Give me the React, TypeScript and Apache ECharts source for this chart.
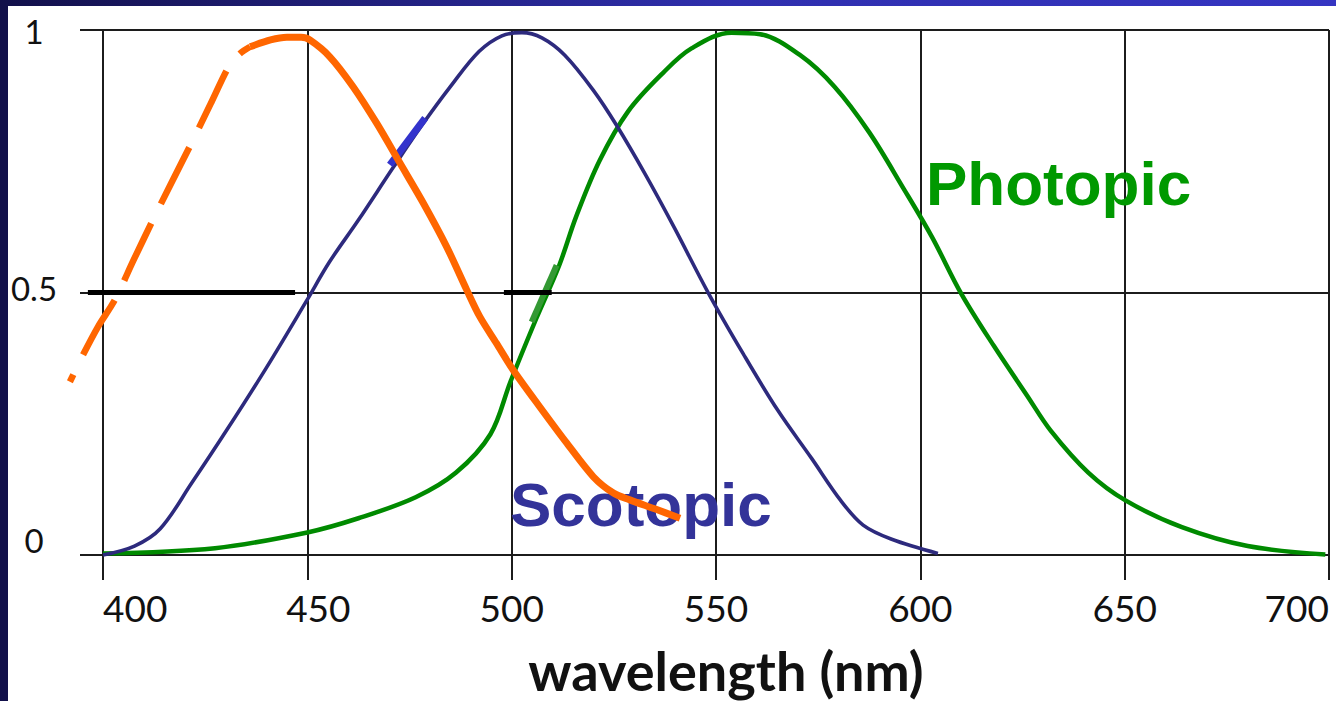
import React, { useEffect, useRef } from "react";
import * as echarts from "echarts";

const xTicks = [400, 450, 500, 550, 600, 650, 700];
const yTicks = [0, 0.5, 1];

const scotopic: [number, number][] = [
  [400, 0], [407.7, 0.017], [414, 0.05], [421.7, 0.137], [430.2, 0.237], [440, 0.357],
  [449.8, 0.484], [455.4, 0.558], [462.5, 0.638], [471, 0.738], [478, 0.818], [485, 0.892],
  [492, 0.959], [497.6, 0.989], [502.5, 0.995], [507.4, 0.985], [513, 0.952], [520, 0.885],
  [525.7, 0.818], [532.7, 0.725], [539.7, 0.625], [548.2, 0.498], [556.6, 0.384], [565, 0.277],
  [573.4, 0.184], [580.5, 0.104], [586, 0.057], [593, 0.03], [604.3, 0.003],
];

const photopic: [number, number][] = [
  [400, 0.003], [427.4, 0.013], [450, 0.043], [462.5, 0.07], [476.5, 0.11], [486.4, 0.157],
  [494.8, 0.23], [499.7, 0.33], [506, 0.45], [511.6, 0.551], [515.8, 0.645], [521.5, 0.751],
  [528.5, 0.845], [537, 0.918], [544, 0.965], [553.8, 0.995], [560.8, 0.992], [570.6, 0.952],
  [579, 0.892], [587.5, 0.805], [595.9, 0.698], [602.9, 0.605], [610, 0.498], [618.1, 0.397],
  [626.1, 0.304], [631.9, 0.237], [641.1, 0.157], [650.2, 0.104], [664, 0.053], [680.1, 0.017],
  [699.1, 0.001],
];

const orangeDashed: [number, number][] = [
  [391.9, 0.33], [395.1, 0.381], [398.8, 0.435], [402.9, 0.486], [407.5, 0.562], [412.2, 0.638],
  [417, 0.713], [421.8, 0.787], [426.5, 0.862], [430.9, 0.932], [433.5, 0.955], [436, 0.968],
];

const orangeSolid: [number, number][] = [
  [436, 0.968], [441, 0.981], [445, 0.986], [448.5, 0.986], [450.6, 0.981], [455.5, 0.949],
  [461.2, 0.892], [467, 0.822], [472.7, 0.746], [478.4, 0.67], [484.1, 0.587], [489, 0.505],
  [492.2, 0.454], [496.3, 0.403], [500.4, 0.352], [506.9, 0.282], [513.5, 0.213], [520, 0.149],
  [524.9, 0.118], [528.9, 0.105], [535, 0.088], [541.2, 0.07],
];

const halfMarkA: [number, number][] = [[396.3, 0.5], [447, 0.5]];
const halfMarkB: [number, number][] = [[498.1, 0.5], [509.8, 0.5]];
const blueMark: [number, number][] = [[470.2, 0.743], [478.8, 0.832]];
const greenMark: [number, number][] = [[504.9, 0.444], [511, 0.552]];

const xTitle = "wavelength (nm)";
const photopicLabel = "Photopic";
const scotopicLabel = "Scotopic";

// Plot geometry (pixels) and an auxiliary hidden axis extended to the left so marks
// before 400 nm are drawn through the same linear scale.
const PLOT_LEFT = 103;
const PLOT_RIGHT = 1329;
const AUX_MIN = 390;
const pxPerNm = (PLOT_RIGHT - PLOT_LEFT) / (700 - 400);
const AUX_LEFT = PLOT_LEFT - (400 - AUX_MIN) * pxPerNm;

export default function App() {
  const ref = useRef<HTMLDivElement>(null);
  useEffect(() => {
    if (!ref.current) return;
    const chart = echarts.init(ref.current, undefined, { renderer: "svg" });
    const gridLine = { color: "#1c1c1c", width: 2 };
    const seg = (data: [number, number][], color: string, width: number, z = 3, aux = false) => ({
      type: "line",
      data,
      showSymbol: false,
      symbol: "none",
      clip: false,
      silent: true,
      z,
      xAxisIndex: aux ? 1 : 0,
      yAxisIndex: aux ? 1 : 0,
      lineStyle: { color, width, cap: "butt" },
    });
    chart.setOption({
      animation: false,
      backgroundColor: "#ffffff",
      grid: [
        { left: PLOT_LEFT, right: 1336 - PLOT_RIGHT, top: 30, bottom: 146, containLabel: false, outerBoundsMode: "none" },
        { left: AUX_LEFT, right: 1336 - PLOT_RIGHT, top: 30, bottom: 146, containLabel: false, outerBoundsMode: "none" },
      ],
      xAxis: [
        {
          type: "value",
          gridIndex: 0,
          min: 400,
          max: 700,
          interval: 50,
          axisLine: { show: true, onZero: false, lineStyle: gridLine },
          axisTick: { show: true, length: 25, lineStyle: gridLine },
          splitLine: { show: true, lineStyle: gridLine },
          axisLabel: {
            margin: 34,
            fontFamily: "Lato",
            fontSize: 37,
            color: "#111",
            alignMinLabel: "left",
            alignMaxLabel: "right",
            formatter: (v: number) => (v === 450 ? "{s|" + v + "}" : String(v)),
            rich: { s: { fontFamily: "Lato", fontSize: 37, color: "#111", padding: [0, 0, 0, 22] } },
          },
          name: xTitle,
          nameLocation: "middle",
          nameGap: 88,
          nameTextStyle: {
            fontFamily: "Lato",
            fontWeight: "bold",
            fontSize: 54,
            color: "#111",
            padding: [0, 0, 0, 20],
          },
        },
        {
          type: "value",
          gridIndex: 1,
          min: AUX_MIN,
          max: 700,
          show: false,
        },
      ],
      yAxis: [
        {
          type: "value",
          gridIndex: 0,
          min: 0,
          max: 1,
          interval: 0.5,
          axisLine: { show: true, lineStyle: gridLine },
          axisTick: { show: true, length: 23, lineStyle: gridLine },
          splitLine: { show: true, lineStyle: gridLine },
          axisLabel: {
            margin: 69,
            align: "center",
            fontFamily: "Lato",
            fontSize: 33,
            color: "#111",
            formatter: (v: number) => {
              if (v === 0) return "{z|0}";
              if (v === 0.5) return "{h|0.5}";
              return "{o|" + String(v) + "}";
            },
            rich: {
              z: { fontFamily: "Lato", fontSize: 33, color: "#111", padding: [0, 0, 30, 0] },
              h: { fontFamily: "Lato", fontSize: 33, color: "#111", padding: [0, 0, 10, 0] },
              o: { fontFamily: "Lato", fontSize: 33, color: "#111", padding: [2, 0, 0, 0] },
            },
          },
        },
        { type: "value", gridIndex: 1, min: 0, max: 1, show: false },
      ],
      series: [
        { ...seg(photopic, "#008a00", 4.5, 2), smooth: 0.35 },
        { ...seg(scotopic, "#2d2a7d", 3.6, 2), smooth: 0.35 },
        seg(blueMark, "#3333cc", 7, 3),
        seg(greenMark, "#339933", 6, 3),
        seg(halfMarkA, "#000000", 5, 3, true),
        seg(halfMarkB, "#000000", 5, 3),
        {
          ...seg(orangeDashed, "#ff6600", 6.5, 4, true),
          smooth: 0.3,
          lineStyle: { color: "#ff6600", width: 6.5, type: [63, 22], dashOffset: 55, cap: "butt" },
        },
        { ...seg(orangeSolid, "#ff6600", 7, 4), smooth: 0.3 },
      ],
      graphic: [
        {
          type: "rect",
          left: 0,
          top: 0,
          shape: { width: 8, height: 701 },
          style: { fill: "#12104a" },
          z: 100,
        },
        {
          type: "rect",
          left: 0,
          top: 0,
          shape: { width: 1336, height: 6 },
          style: {
            fill: new echarts.graphic.LinearGradient(0, 0, 1, 0, [
              { offset: 0, color: "#12104a" },
              { offset: 0.55, color: "#2f2fae" },
              { offset: 1, color: "#3535c2" },
            ]),
          },
          z: 100,
        },
        {
          type: "text",
          x: 926,
          y: 183.5,
          style: {
            text: photopicLabel,
            fontFamily: "Liberation Sans",
            fontWeight: "bold",
            fontSize: 62,
            fill: "#009900",
            verticalAlign: "middle",
          },
          z: 50,
        },
        {
          type: "text",
          x: 510,
          y: 504.5,
          style: {
            text: scotopicLabel,
            fontFamily: "Liberation Sans",
            fontWeight: "bold",
            fontSize: 62,
            fill: "#333399",
            verticalAlign: "middle",
          },
          z: 3,
        },
      ],
    });
    return () => chart.dispose();
  }, []);
  return (
    <div
      ref={ref}
      style={{ position: "absolute", left: 0, top: 0, width: 1336, height: 701 }}
    />
  );
}
